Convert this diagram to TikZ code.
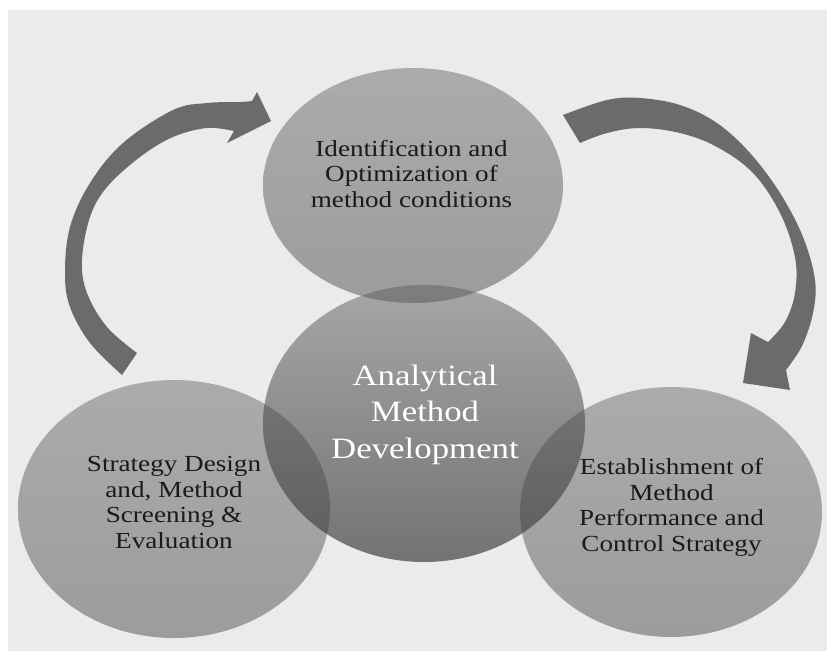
\documentclass[tikz,border=0pt]{standalone}
\usepackage{fontspec}
\setmainfont{Liberation Serif}[FakeStretch=1.18]
\usetikzlibrary{shapes.geometric}
\definecolor{bgc}{HTML}{EBEBEB}
\definecolor{arrowc}{HTML}{6B6B6B}
\definecolor{balltop}{HTML}{ABABAB}
\definecolor{ballbot}{HTML}{9C9C9C}
\definecolor{ctrtop}{HTML}{A6A6A6}
\definecolor{ctrmid}{HTML}{979797}
\definecolor{ctrbot}{HTML}{737373}
\definecolor{txtc}{HTML}{1A1A1A}
\tikzset{
  ball/.style={ellipse, inner sep=0pt, draw=none},
  lbl/.style={font=\fontsize{23}{25.5}\selectfont, align=center, text=txtc, anchor=base, inner sep=0pt},
  ctrlbl/.style={font=\fontsize{29.5}{36.5}\selectfont, align=center, text=white, anchor=base, inner sep=0pt},
  blockarrow/.style={fill=arrowc},
  lens/.style={fill=black, fill opacity=0.2}
}
\begin{document}
\begin{tikzpicture}[x=1pt,y=-1pt]
\useasboundingbox (0,0) rectangle (827,651);
\fill[white] (0,0) rectangle (827,651);
\fill[bgc] (8,10) rectangle (827,651);

% curved arrows
\fill[blockarrow] plot[smooth, tension=0.6] coordinates {(122,375) (90,343) (70,307) (65,273) (70,227) (90,183) (123,143) (173,110) (207,103) (240,102) (252,101)}
  -- (257,92) -- (271,121) -- (227,143)
  -- plot[smooth, tension=0.6] coordinates {(234,131) (207,128) (173,137) (140,157) (107,187) (90,217) (82,260) (87,293) (107,327) (137,353)} -- cycle;
\fill[blockarrow] plot[smooth, tension=0.6] coordinates {(563,115) (607,100) (640,98) (680,105) (717,123) (750,153) (780,193) (803,237) (815,280) (813,313) (802,346) (786,370)}
  -- (790,390) -- (743,383) -- (751,333)
  -- plot[smooth, tension=0.6] coordinates {(768,342) (785,322) (795,293) (795,257) (780,213) (753,173) (717,147) (680,133) (640,128) (607,133) (580,143)} -- cycle;

% spheres
\node[ball, minimum width=312pt, minimum height=258pt, top color=balltop, bottom color=ballbot] (left) at (174,509) {};
\node[ball, minimum width=302pt, minimum height=250pt, top color=balltop, bottom color=ballbot] (right) at (671,512) {};
\node[ball, minimum width=322pt, minimum height=277pt, top color=ctrtop, middle color=ctrmid, bottom color=ctrbot] (center) at (424,423.5) {};
\node[ball, minimum width=300pt, minimum height=235pt, top color=balltop, bottom color=ballbot] (top) at (413,185.5) {};

% overlaps
\begin{scope}
  \clip (424,423.5) ellipse (161 and 138.5);
  \fill[lens] (174,509) ellipse (156 and 129);
  \fill[lens] (671,512) ellipse (151 and 125);
  \fill[lens] (413,185.5) ellipse (150 and 117.5);
\end{scope}

% labels (anchor base = baseline of the last line)
\node[lbl] (ttop) at (411.5,207) {Identification and\\Optimization of\\method conditions};
\node[lbl] (tleft) at (174,548) {Strategy Design\\and, Method\\Screening \&\\Evaluation};
\node[lbl] (tright) at (671.5,551) {Establishment of\\Method\\Performance and\\Control Strategy};
\node[ctrlbl] (tctr) at (425,458) {Analytical\\Method\\Development};
\end{tikzpicture}
\end{document}
